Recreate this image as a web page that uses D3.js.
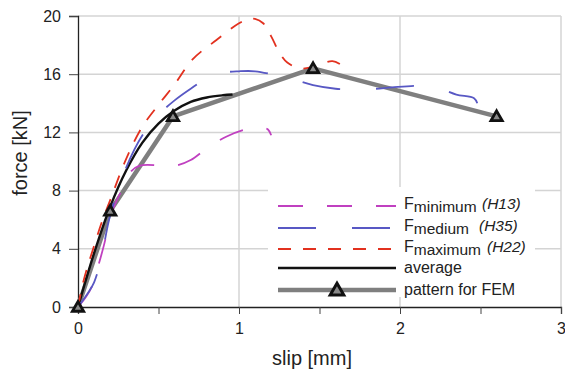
<!DOCTYPE html>
<html>
<head>
<meta charset="utf-8">
<script src="https://cdn.jsdelivr.net/npm/d3@7"></script>
<style>
  body { margin: 0; background: #fff; }
  svg { font-family: "Liberation Sans", Arial, sans-serif; }
</style>
</head>
<body>
<script>
// values: [slip mm, force kN]
const fMinimum = [[0,0],[0.05,0.7],[0.09,1.5],[0.12,2.6],[0.16,4.2],[0.19,5.6],[0.22,6.8],[0.27,8.0],[0.32,9.2],[0.38,9.7],[0.55,9.7],[0.62,9.75],[0.7,10.1],[0.8,10.9],[0.92,11.7],[1.04,12.2],[1.14,12.35],[1.18,12.2],[1.2,11.8]];
const fMedium = [[0,0],[0.07,1.1],[0.1,1.7],[0.13,2.7],[0.15,3.6],[0.2,6.3],[0.3,9.6],[0.4,11.8],[0.5,13.2],[0.6,14.2],[0.7,15.0],[0.8,15.7],[0.9,16.1],[1.0,16.2],[1.1,16.2],[1.24,15.9],[1.35,15.6],[1.46,15.25],[1.6,15.0],[1.7,14.95],[1.85,15.0],[1.95,15.1],[2.15,15.2],[2.25,15.0],[2.35,14.6],[2.46,14.35],[2.48,14.0]];
const fMaximum = [[0,0],[0.03,1.6],[0.06,2.8],[0.1,4.2],[0.15,5.9],[0.2,7.35],[0.3,10.2],[0.4,12.4],[0.5,13.9],[0.6,15.3],[0.71,17.0],[0.86,18.35],[1.0,19.5],[1.05,19.75],[1.1,19.8],[1.15,19.5],[1.2,18.6],[1.25,17.5],[1.3,16.8],[1.38,16.4],[1.46,16.5],[1.58,16.9],[1.64,16.6]];
const average = [[0,0],[0.1,3.7],[0.2,6.9],[0.3,9.4],[0.4,11.3],[0.5,12.6],[0.6,13.5],[0.7,14.1],[0.8,14.4],[0.9,14.55],[0.96,14.6]];
const femPattern = [[0,0],[0.2,6.6],[0.59,13.1],[1.46,16.4],[2.6,13.1]];

const xTicks = [0, 1, 2, 3];
const xMinor = [0, 0.5, 1, 1.5, 2, 2.5, 3];
const yTicks = [0, 4, 8, 12, 16, 20];

const legendRows = [
  { main: 'F', sub: 'minimum', tag: '(H13)', color: '#c040c0', dash: '25,24', w: 1.8, tagX: 482 },
  { main: 'F', sub: 'medium', tag: '(H35)', color: '#5858c4', dash: '38,36', w: 1.8, tagX: 479 },
  { main: 'F', sub: 'maximum', tag: '(H22)', color: '#e2311f', dash: '13,12', w: 1.8, tagX: 487 },
  { main: 'average', color: '#111', dash: null, w: 2.4 },
  { main: 'pattern for FEM', color: '#7f7f7f', dash: null, w: 4.5, marker: true }
];

const W = 565, H = 373;
const svg = d3.select('body').append('svg').attr('width', W).attr('height', H);

const x = d3.scaleLinear().domain([0, 3]).range([78, 561]);
const y = d3.scaleLinear().domain([0, 20]).range([307, 16]);

// grid
svg.append('g').selectAll('line').data(yTicks.filter(d => d > 0)).enter().append('line')
  .attr('x1', x(0)).attr('x2', x(3)).attr('y1', d => y(d)).attr('y2', d => y(d))
  .attr('stroke', '#d4d4d4').attr('stroke-width', 1.5);
svg.append('g').selectAll('line').data(xTicks.filter(d => d > 0)).enter().append('line')
  .attr('x1', d => x(d)).attr('x2', d => x(d)).attr('y1', y(0)).attr('y2', y(20))
  .attr('stroke', '#d4d4d4').attr('stroke-width', 1.5);

// legend box covering the grid
svg.append('rect').attr('x', 268).attr('y', 187).attr('width', 267).attr('height', 110).attr('fill', '#fff');

// axes
const yAxis = svg.append('g').attr('transform', 'translate(' + x(0) + ',0)')
  .call(d3.axisLeft(y).tickValues(yTicks).tickSize(9).tickPadding(8));
const xAxis = svg.append('g').attr('transform', 'translate(0,' + y(0) + ')')
  .call(d3.axisBottom(x).tickValues(xMinor).tickSize(7).tickPadding(9)
    .tickFormat(d => Number.isInteger(d) ? d : ''));
[yAxis, xAxis].forEach(a => {
  a.select('.domain').attr('stroke', '#222').attr('stroke-width', 1.3);
  a.selectAll('.tick line').attr('stroke', '#444').attr('stroke-width', 1);
  a.selectAll('text').attr('font-size', 16).attr('fill', '#222')
    .attr('font-family', '"Liberation Sans", Arial, sans-serif');
});

svg.append('text').attr('x', 312).attr('y', 365).attr('text-anchor', 'middle')
  .attr('font-size', 20).attr('fill', '#222').text('slip [mm]');
svg.append('text').attr('transform', 'translate(27,153) rotate(-90)').attr('text-anchor', 'middle')
  .attr('font-size', 20).attr('fill', '#222').text('force [kN]');

// curves
const lineCR = d3.line().x(d => x(d[0])).y(d => y(d[1])).curve(d3.curveCatmullRom);
const lineLin = d3.line().x(d => x(d[0])).y(d => y(d[1]));

svg.append('path').attr('d', lineLin(femPattern)).attr('fill', 'none')
  .attr('stroke', '#7f7f7f').attr('stroke-width', 4.5).attr('stroke-linejoin', 'round');
svg.append('path').attr('d', lineCR(average)).attr('fill', 'none')
  .attr('stroke', '#111').attr('stroke-width', 2.4);

const series = [[fMinimum, legendRows[0]], [fMedium, legendRows[1]], [fMaximum, legendRows[2]]];
series.forEach(([data, s]) => {
  svg.append('path').attr('d', lineCR(data)).attr('fill', 'none')
    .attr('stroke', s.color).attr('stroke-width', s.w).attr('stroke-dasharray', s.dash);
});

const tri = d3.symbol().type(d3.symbolTriangle).size(55);
svg.append('g').selectAll('path').data(femPattern).enter().append('path')
  .attr('d', tri).attr('transform', d => 'translate(' + x(d[0]) + ',' + (y(d[1]) + 1) + ')')
  .attr('fill', '#8a8a8a').attr('stroke', '#111').attr('stroke-width', 2.8)
  .attr('stroke-linejoin', 'miter');

// legend
const rowY = [206, 228, 249, 268, 290];
legendRows.forEach((r, i) => {
  const g = svg.append('g');
  g.append('line').attr('x1', 278).attr('x2', 396).attr('y1', rowY[i]).attr('y2', rowY[i])
    .attr('stroke', r.color).attr('stroke-width', r.w).attr('stroke-dasharray', r.dash);
  if (r.marker) {
    g.append('path').attr('d', d3.symbol().type(d3.symbolTriangle).size(80))
      .attr('transform', 'translate(337,' + (rowY[i] + 1) + ')')
      .attr('fill', '#8a8a8a').attr('stroke', '#111').attr('stroke-width', 3);
  }
  if (r.sub) {
    const t = g.append('text').attr('x', 404).attr('y', rowY[i] + 3).attr('font-size', 16).attr('fill', '#222');
    t.append('tspan').text(r.main);
    t.append('tspan').attr('dy', 3).attr('font-size', 15.5).text(r.sub);
    g.append('text').attr('x', r.tagX).attr('y', rowY[i] + 3).attr('font-size', 15.5)
      .attr('font-style', 'italic').attr('fill', '#222').text(r.tag);
  } else {
    g.append('text').attr('x', 404).attr('y', rowY[i] + 5).attr('font-size', 16).attr('fill', '#222').text(r.main);
  }
});
</script>
</body>
</html>
